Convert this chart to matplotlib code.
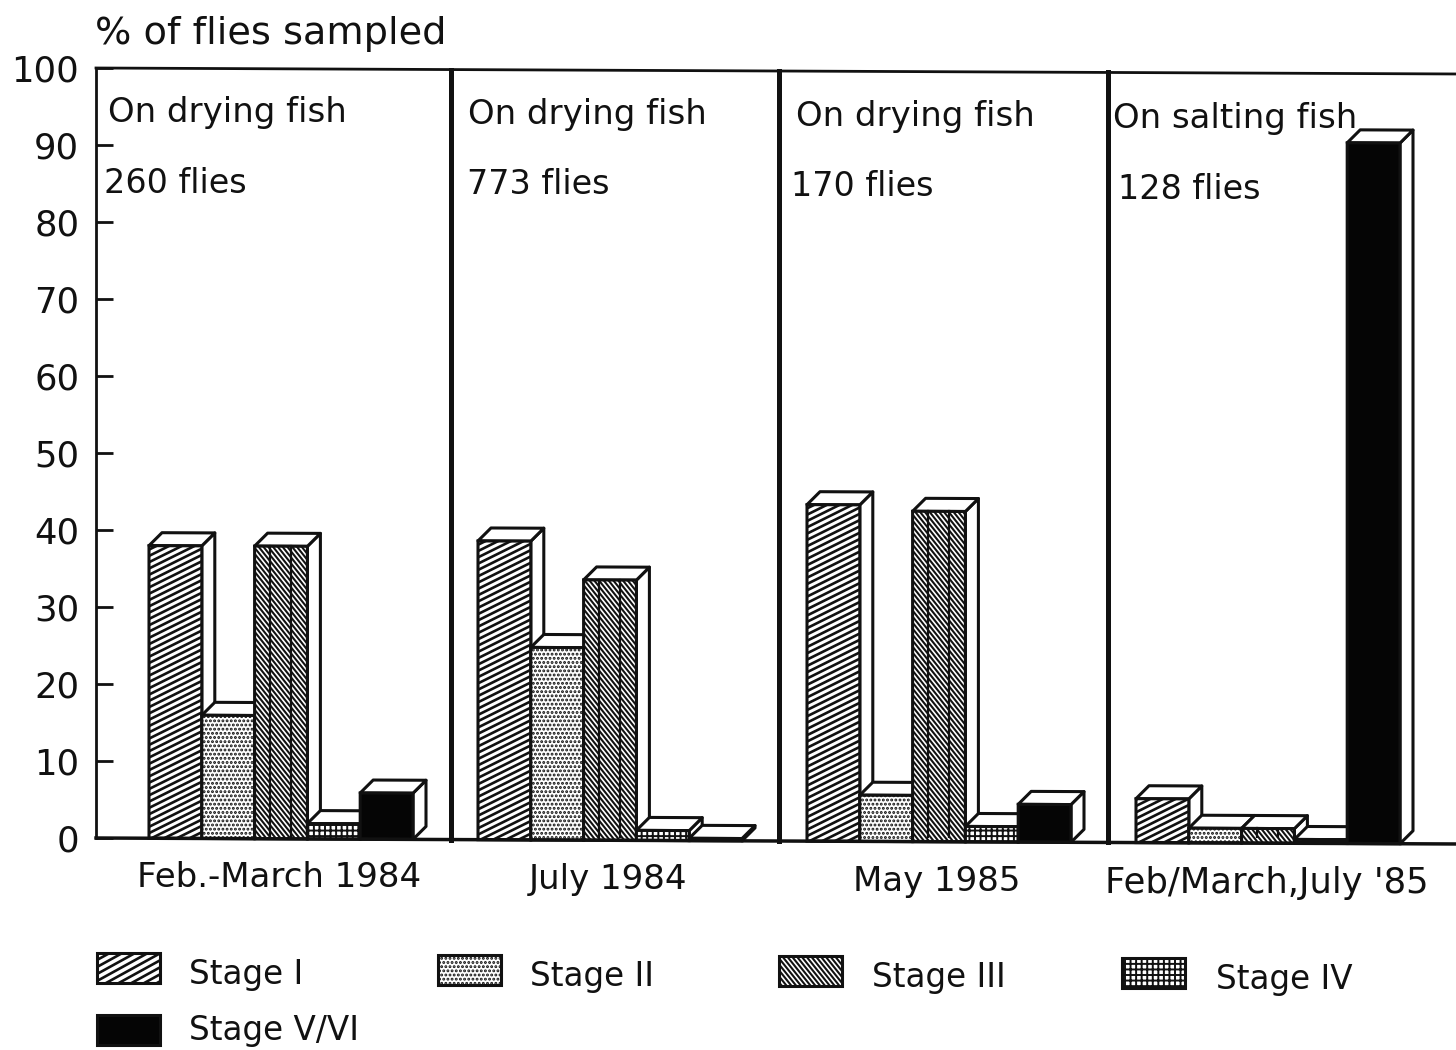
import numpy as np
import matplotlib
matplotlib.use("Agg")
import matplotlib.pyplot as plt
from matplotlib.collections import LineCollection
from matplotlib.patches import Polygon, Rectangle
from matplotlib.transforms import Affine2D

plt.rcParams['font.family'] = ['DejaVu Sans']
plt.rcParams['hatch.linewidth'] = 1.4

periods = ["Feb.-March 1984", "July 1984", "May 1985", "Feb/March,July '85"]
headers = ["On drying fish", "On drying fish", "On drying fish", "On salting fish"]
counts = ["260 flies", "773 flies", "170 flies", "128 flies"]
stages = ["Stage I", "Stage II", "Stage III", "Stage IV", "Stage V/VI"]
stage_1 = [38, 38.8, 43.7, 5.7]
stage_2 = [16, 25, 6, 1.9]
stage_3 = [38, 33.8, 42.9, 1.9]
stage_4 = [2, 1.3, 2, 0.5]
stage_5 = [6, 0.3, 4.9, 91]
series = [stage_1, stage_2, stage_3, stage_4, stage_5]
yticks = list(range(0, 101, 10))

hatches = [None, '....', None, '+++', None]
faces = ['white', 'white', '#111111', 'white', '#050505']
INK = '#111111'

W, H = 1456, 1050
fig = plt.figure(figsize=(W / 100, H / 100), dpi=100, facecolor='white')
L, R, B, T = 96, 1456, 838, 68
ax = fig.add_axes([L / W, 1 - B / H, (R - L) / W, (B - T) / H])
GROUP = 329.0
PXU = 7.7
ax.set_xlim(-(149 - L) / GROUP, (R - 149) / GROUP)
ax.set_ylim(0, 100)
ax.patch.set_visible(False)
for s in ax.spines.values():
    s.set_visible(False)

tilt = Affine2D.from_values(1, -0.0044, 0, 1, 0, 0.0044 * L)
tr = ax.transData + tilt


def stripes(owner, clip, x, y, w, h, sx, sy, slope, period, color, lw, transform, zorder):
    """Slanted line texture clipped to a rectangle. sx, sy: pixels per unit."""
    wp, hp = w * sx, h * sy
    rise = abs(slope) * wp
    offs = np.arange(-rise - period, hp + rise + period, period)
    segs = []
    for c in offs:
        if slope > 0:
            segs.append([(x, y + c / sy), (x + w, y + (c + rise) / sy)])
        else:
            segs.append([(x, y + (c + rise) / sy), (x + w, y + c / sy)])
    lc = LineCollection(segs, colors=color, linewidths=lw, transform=transform, zorder=zorder)
    owner.add_artist(lc) if owner is fig else owner.add_collection(lc, autolim=False)
    lc.set_clip_path(clip)
    return lc


bw = 52.8 / GROUP
dx = 13 / GROUP
dy = 13 / PXU
x0, x1 = ax.get_xlim()
sep = [(451 - 149) / GROUP, (779 - 149) / GROUP, (1108 - 149) / GROUP]

for g in range(4):
    for i, vals in enumerate(series):
        v = vals[g]
        left = g + i * bw
        right = left + bw
        z = 3 + g * 10 + i
        kw = dict(transform=tr, clip_on=False, zorder=z)
        ax.add_patch(Polygon([(right, 0), (right + dx, dy), (right + dx, v + dy), (right, v)],
                             fc='white', ec=INK, lw=2.2, joinstyle='round', **kw))
        ax.add_patch(Polygon([(left, v), (left + dx, v + dy), (right + dx, v + dy), (right, v)],
                             fc='white', ec=INK, lw=2.2, joinstyle='round', **kw))
        body = Rectangle((left, 0), bw, v, fc=faces[i], lw=0, hatch=hatches[i],
                         ec=INK, **kw)
        ax.add_patch(body)
        if i == 0:
            stripes(ax, body, left, 0, bw, v, GROUP, PXU, 0.5, 6.3, INK, 1.9, tr, z)
        if i == 2:
            stripes(ax, body, left, 0, bw, v, GROUP, PXU, -1.25, 6.0, 'white', 1.2, tr, z)
            for frac in (0.3, 0.68):
                ax.plot([left + frac * bw] * 2, [0, v], color=INK, lw=1.6, transform=tr, zorder=z)
        ax.add_patch(Rectangle((left, 0), bw, v, fc='none', ec=INK, lw=2.2, **kw))

ax.plot([x0, x1], [100, 100], color=INK, lw=2, transform=tr, clip_on=False, zorder=2)
ax.plot([x0, x1], [0, 0], color=INK, lw=2.5, transform=tr, clip_on=False, zorder=90)
ax.plot([x0, x0], [0, 100], color=INK, lw=2, transform=tr, clip_on=False, zorder=2)
for s in sep:
    ax.plot([s, s], [0, 100], color=INK, lw=3.6, transform=tr, clip_on=False, zorder=2)

ax.set_xticks([])
ax.set_yticks(yticks)
ax.set_yticklabels([str(t) for t in yticks], fontsize=25.5, color=INK)
ax.tick_params(axis='y', direction='in', length=12, width=2, color=INK, pad=12)

pix = Affine2D().scale(1, -1).translate(0, H)


def txt(x, y, s, size=24.5, ha='left'):
    fig.text(x, y + 2.5, s, transform=pix, fontsize=size, ha=ha, va='center', color=INK)


txt(95, 31, "% of flies sampled", size=27.5)
for x, y, s in zip([108, 468, 796, 1113], [110, 112, 114, 116], headers):
    txt(x, y, s)
for x, y, s in zip([104, 467, 791, 1118], [181, 182, 184, 187], counts):
    txt(x, y, s, size=24)
for x, y, s, z in zip([279, 608, 937, 1267], [875, 877, 879, 881], periods, [24.5, 24.5, 24.5, 25.5]):
    txt(x, y, s, size=z, ha='center')

leg_x = [97, 438, 779, 1122, 97]
leg_y = [968, 970, 971, 973, 1030]
leg_tx = [189, 530, 872, 1216, 189]
leg_ty = [972, 974, 975, 977, 1028]
for i, s in enumerate(stages):
    xx, yy = leg_x[i], leg_y[i] - 15
    box = Rectangle((xx, yy), 63, 30, hatch=hatches[i], transform=pix, clip_on=True,
                    lw=0, ec=INK, fc=faces[i], zorder=5)
    fig.add_artist(box)
    if i == 0:
        stripes(fig, box, xx, yy, 63, 30, 1, 1, -0.55, 7.0, INK, 1.9, pix, 6)
    if i == 2:
        stripes(fig, box, xx, yy, 63, 30, 1, 1, 1.25, 6.0, 'white', 1.2, pix, 6)
    fig.add_artist(Rectangle((xx, yy), 63, 30, fc='none', ec=INK, lw=2.2, transform=pix, zorder=7))
    txt(leg_tx[i], leg_ty[i], s, size=23.5)

fig.savefig('out.png', dpi=100, facecolor='white')
